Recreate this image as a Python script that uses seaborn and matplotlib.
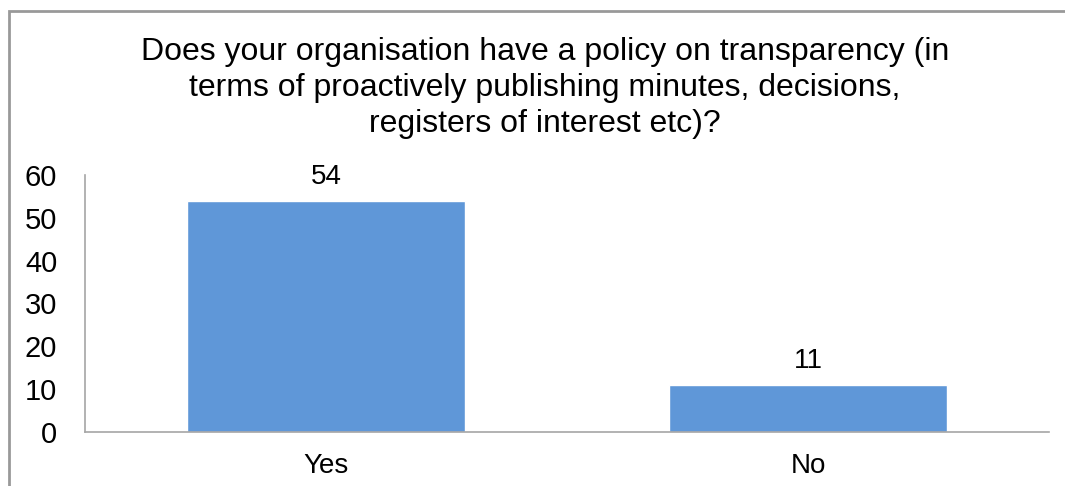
import matplotlib
matplotlib.use("Agg")
import matplotlib.pyplot as plt
import seaborn as sns
import pandas as pd
from matplotlib.patches import Rectangle

# chart data
categories = ["Yes", "No"]
counts = [54, 11]
title = ("Does your organisation have a policy on transparency (in\n"
         "terms of proactively publishing minutes, decisions,\n"
         "registers of interest etc)?")

sns.set_style("white")
plt.rcParams['font.family'] = ['Liberation Sans', 'DejaVu Sans']
plt.rcParams['text.color'] = 'black'

df = pd.DataFrame({"answer": categories, "count": counts})

fig = plt.figure(figsize=(10.65, 4.86), dpi=100)
ax = fig.add_axes([85 / 1065, 1 - 432 / 486, (1049 - 85) / 1065, (432 - 175) / 486])

sns.barplot(data=df, x="answer", y="count", color="#5f97d8", width=0.575,
            saturation=1, ax=ax)

ax.set_ylim(0, 60)
ax.set_yticks(range(0, 61, 10))
ax.set_xlim(-0.5, 1.5)
ax.set_xlabel("")
ax.set_ylabel("")
ax.tick_params(axis="y", labelsize=21, length=0, pad=20, labelcolor="#000000")
ax.tick_params(axis="x", labelsize=20, length=0, pad=15, labelcolor="#000000")

for side in ["top", "right"]:
    ax.spines[side].set_visible(False)
for side in ["left", "bottom"]:
    ax.spines[side].set_color("#a6a6a6")
    ax.spines[side].set_linewidth(1.2)

# value labels above bars
for i, v in enumerate(counts):
    ax.annotate(str(v), (i, v), xytext=(0, 8), textcoords="offset points",
                ha="center", va="bottom", fontsize=20)

fig.text(545 / 1065, 1 - 88 / 486, title, ha="center", va="center",
         fontsize=23, linespacing=1.24)

# outer chart border
fig.patches.append(Rectangle((9 / 1065, -0.1), 1.2, 1 - 11 / 486 + 0.1,
                             transform=fig.transFigure, fill=False,
                             edgecolor="#999999", linewidth=2))

fig.savefig("out.png", dpi=100)
